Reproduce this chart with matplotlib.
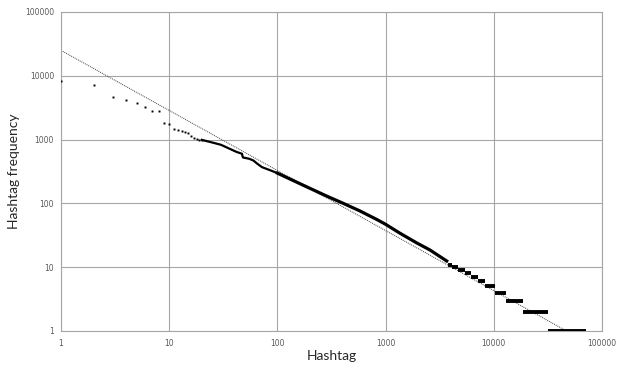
import matplotlib.pyplot as plt
import numpy as np

# head of the rank-frequency curve: single hashtags
head_rank = [1, 2, 3, 4, 5, 6, 7, 8, 9, 10, 11, 12, 13, 14, 15, 16, 17, 18, 19, 20]
head_freq = [8400, 7300, 4650, 4200, 3700, 3250, 2800, 2800, 1850, 1750,
             1470, 1420, 1370, 1330, 1290, 1150, 1060, 1020, 1000, 990]

# dense middle part (points merge into a thick line)
mid_rank = [20, 25, 30, 42, 47, 48, 55, 60, 65, 72, 86, 100, 140, 200, 286,
            407, 580, 828, 1000, 1360, 1940, 2570, 3670]
mid_freq = [990, 900, 830, 640, 600, 525, 500, 470, 420, 370, 330, 298, 228,
            172, 130, 100, 76, 56, 47, 34, 24, 18.6, 12.5]

# tail: integer frequencies shared by a range of ranks
step_freq = [11, 10, 9, 8, 7, 6, 5, 4, 3, 2, 1]
step_start = [3750, 4150, 4650, 5400, 6100, 7100, 8300, 10300, 13000, 18500, 31500]
step_end = [4150, 4650, 5400, 6100, 7100, 8300, 10300, 13000, 18500, 31500, 71000]

# power trendline
trend_x = [1, 47000]
trend_y = [25000, 1]

fig = plt.figure(figsize=(6.17, 3.69), dpi=100)
ax = fig.add_axes([0.0989, 0.103, 0.8768, 0.8645])
ax.set_xscale('log')
ax.set_yscale('log')
ax.set_xlim(1, 100000)
ax.set_ylim(1, 100000)

grid_c = '#a6a6a6'
ax.grid(True, which='major', color=grid_c, linewidth=0.8)
ax.set_axisbelow(True)
for s in ax.spines.values():
    s.set_color(grid_c)
    s.set_linewidth(0.8)

ax.plot(trend_x, trend_y, color='#404040', linewidth=0.7,
        linestyle=(0, (1, 1)), zorder=2)

ax.plot(head_rank, head_freq, 's', color='black', markersize=1.4,
        markeredgewidth=0, zorder=3)
# sparser section before rank 100 looks thinner than the rest
k = mid_rank.index(100)
ax.plot(mid_rank[:k + 1], mid_freq[:k + 1], color='black', linewidth=1.6,
        zorder=3)
ax.plot(mid_rank[k:], mid_freq[k:], color='black', linewidth=2.3,
        zorder=3)
ax.hlines(step_freq, step_start, step_end, color='black', linewidth=2.8,
          zorder=3)

ticks = [1, 10, 100, 1000, 10000, 100000]
ax.set_xticks(ticks)
ax.set_yticks(ticks)
ax.set_xticklabels([str(t) for t in ticks])
ax.set_yticklabels([str(t) for t in ticks])
ax.minorticks_off()
ax.tick_params(length=0, labelsize=5.5, labelcolor='#595959', pad=6)
ax.tick_params(axis='y', pad=5)

ax.set_xlabel('Hashtag', fontsize=10, family='Lato', color='#262626')
ax.set_ylabel('Hashtag frequency', fontsize=10, family='Lato',
              color='#262626')
ax.xaxis.set_label_coords(0.5, -0.06)
ax.yaxis.set_label_coords(-0.076, 0.5)

fig.savefig('out.png', dpi=100)
